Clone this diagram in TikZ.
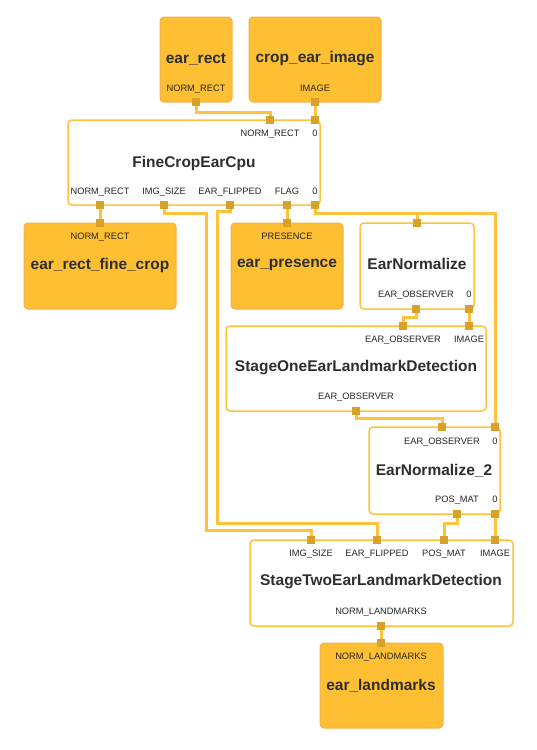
\documentclass[tikz,border=0pt]{standalone}
\usepackage{fontspec}
\setmainfont{Liberation Sans}
\definecolor{edgeyellow}{HTML}{FFC23C}
\definecolor{portgold}{HTML}{D8A12A}
\definecolor{datafill}{HTML}{FFBF33}
\definecolor{databorder}{HTML}{F6AE48}
\definecolor{titlegray}{HTML}{2E2E2E}
\tikzset{
  databox/.style={draw=databorder, fill=datafill, rounded corners=4pt, line width=1pt, inner sep=0pt},
  calcbox/.style={draw=edgeyellow, fill=white, rounded corners=4pt, line width=1.5pt, inner sep=0pt},
  edge/.style={draw=edgeyellow, line width=3pt},
  port/.style={fill=portgold, minimum size=7.5pt, inner sep=0pt},
  title/.style={font=\fontsize{15.5}{18}\selectfont\bfseries, text=titlegray, inner sep=0pt},
  lbl/.style={font=\fontsize{9.3}{11}\selectfont, text=black!85, inner sep=0pt, text height=7pt, text depth=0pt}
}
\begin{document}
\begin{tikzpicture}[x=1pt, y=-1pt]
  \useasboundingbox (0,0) rectangle (536,750);

  % boxes
  \node[databox, minimum width=72pt, minimum height=85pt] (earrect) at (196,59.5) {};
  \node[databox, minimum width=132pt, minimum height=85pt] (cropimg) at (315,59.5) {};
  \node[calcbox, minimum width=252pt, minimum height=85pt] (finecrop) at (194,162.5) {};
  \node[databox, minimum width=152pt, minimum height=86pt] (rectfine) at (100,266) {};
  \node[databox, minimum width=112pt, minimum height=86pt] (presence) at (287,266) {};
  \node[calcbox, minimum width=114pt, minimum height=86pt] (earnorm) at (417,266) {};
  \node[calcbox, minimum width=260pt, minimum height=85pt] (stageone) at (356,368.5) {};
  \node[calcbox, minimum width=131pt, minimum height=87pt] (earnormtwo) at (434.5,470.5) {};
  \node[calcbox, minimum width=263pt, minimum height=86pt] (stagetwo) at (381.5,583) {};
  \node[databox, minimum width=123pt, minimum height=85pt] (landmarks) at (381.5,685.5) {};

  % ports
  \coordinate (earrectOut) at (196,102);
  \coordinate (cropimgOut) at (315,102);
  \coordinate (fcInRect) at (270,120);
  \coordinate (fcInImg) at (315,120);
  \coordinate (fcOutRect) at (100,205);
  \coordinate (fcOutSize) at (164,205);
  \coordinate (fcOutFlip) at (230,205);
  \coordinate (fcOutFlag) at (287,205);
  \coordinate (fcOutImg) at (315,205);
  \coordinate (rectfineIn) at (100,223);
  \coordinate (presenceIn) at (287,223);
  \coordinate (enIn) at (417,223);
  \coordinate (enOutObs) at (416,309);
  \coordinate (enOutImg) at (469,309);
  \coordinate (soInObs) at (403,326);
  \coordinate (soInImg) at (469,326);
  \coordinate (soOutObs) at (356,411);
  \coordinate (entInObs) at (442,427);
  \coordinate (entInImg) at (495,427);
  \coordinate (entOutPos) at (457,514);
  \coordinate (entOutImg) at (495,514);
  \coordinate (stInSize) at (311,540);
  \coordinate (stInFlip) at (377,540);
  \coordinate (stInPos) at (444,540);
  \coordinate (stInImg) at (495,540);
  \coordinate (stOut) at (381,626);
  \coordinate (lmIn) at (381,643);

  % connectors
  \draw[edge] (earrectOut) -- ++(0,10) -| (fcInRect);
  \draw[edge] (cropimgOut) -- (fcInImg);
  \draw[edge] (fcOutRect) -- (rectfineIn);
  \draw[edge] (fcOutFlag) -- (presenceIn);
  \draw[edge] (fcOutImg) -- ++(0,8) -| (enIn);
  \draw[edge] (fcOutImg) -- ++(0,8) -| (entInImg);
  \draw[edge] (fcOutSize) -- ++(0,8) -- (206,213) -- (206,530) -| (stInSize);
  \draw[edge] (fcOutFlip) -- ++(0,6) -- (217,211) -- (217,523) -| (stInFlip);
  \draw[edge] (enOutObs) -- ++(0,8) -| (soInObs);
  \draw[edge] (enOutImg) -- (soInImg);
  \draw[edge] (soOutObs) -- ++(0,7) -| (entInObs);
  \draw[edge] (entOutPos) -- ++(0,9) -| (stInPos);
  \draw[edge] (entOutImg) -- (stInImg);
  \draw[edge] (stOut) -- (lmIn);

  \foreach \p in {earrectOut, cropimgOut, fcInRect, fcInImg, fcOutRect, fcOutSize,
      fcOutFlip, fcOutFlag, fcOutImg, rectfineIn, presenceIn, enIn, enOutObs, enOutImg,
      soInObs, soInImg, soOutObs, entInObs, entInImg, entOutPos, entOutImg,
      stInSize, stInFlip, stInPos, stInImg, stOut, lmIn}
    \node[port] at (\p) {};

  % texts
  \node[title] at (196,59) {ear\_rect};
  \node[lbl] at (196,88) {NORM\_RECT};
  \node[title] at (315,59) {crop\_ear\_image};
  \node[lbl] at (315,88) {IMAGE};

  \node[lbl] at (270,133) {NORM\_RECT};
  \node[lbl] at (315,133) {0};
  \node[title] at (194,163) {FineCropEarCpu};
  \node[lbl] at (100,191) {NORM\_RECT};
  \node[lbl] at (164,191) {IMG\_SIZE};
  \node[lbl] at (230,191) {EAR\_FLIPPED};
  \node[lbl] at (287,191) {FLAG};
  \node[lbl] at (315,191) {0};

  \node[lbl] at (100,236) {NORM\_RECT};
  \node[title] at (100,265) {ear\_rect\_fine\_crop};
  \node[lbl] at (287,236) {PRESENCE};
  \node[title] at (287,265) {ear\_presence};

  \node[title] at (417,264) {EarNormalize};
  \node[lbl] at (416,294) {EAR\_OBSERVER};
  \node[lbl] at (469,294) {0};

  \node[lbl] at (403,339) {EAR\_OBSERVER};
  \node[lbl] at (469,339) {IMAGE};
  \node[title] at (356,368) {StageOneEarLandmarkDetection};
  \node[lbl] at (356,396) {EAR\_OBSERVER};

  \node[lbl] at (442,441) {EAR\_OBSERVER};
  \node[lbl] at (495,441) {0};
  \node[title] at (434,471) {EarNormalize\_2};
  \node[lbl] at (457,499) {POS\_MAT};
  \node[lbl] at (495,499) {0};

  \node[lbl] at (311,553) {IMG\_SIZE};
  \node[lbl] at (377,553) {EAR\_FLIPPED};
  \node[lbl] at (444,553) {POS\_MAT};
  \node[lbl] at (495,553) {IMAGE};
  \node[title] at (381,582) {StageTwoEarLandmarkDetection};
  \node[lbl] at (381,611) {NORM\_LANDMARKS};

  \node[lbl] at (381,656) {NORM\_LANDMARKS};
  \node[title] at (381,686) {ear\_landmarks};
\end{tikzpicture}
\end{document}
